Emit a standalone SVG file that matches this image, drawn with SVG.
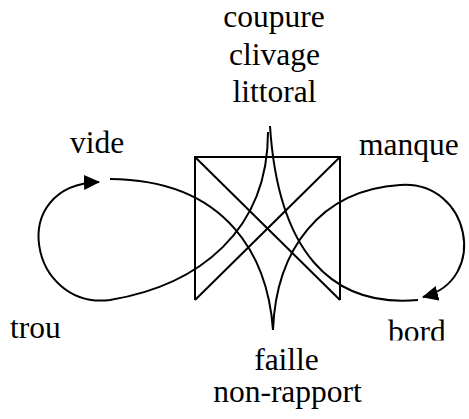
<svg xmlns="http://www.w3.org/2000/svg" width="469" height="419" viewBox="0 0 469 419">
  <style>
    .t { font-family: "Liberation Serif", "Times New Roman", serif; font-size: 31.5px; fill: #000; }
    .m { text-anchor: middle; }
    .ln { fill: none; stroke: #000; stroke-width: 2; stroke-linejoin: miter; }
  </style>
  <defs>
    <marker id="arr" markerUnits="userSpaceOnUse" markerWidth="17" markerHeight="16" refX="15" refY="7.5" orient="auto">
      <path d="M0,0 L16,7.5 L0,15 z" fill="#000"/>
    </marker>
    <clipPath id="clipBord">
      <rect x="370" y="300" width="99" height="40.5"/>
    </clipPath>
  </defs>
  <rect width="469" height="419" fill="#fff"/>

  <g id="square">
    <path class="ln" d="M195,300 L195,157 L340,157 L340,300"/>
    <path class="ln" d="M195,157 L340,300"/>
    <path class="ln" d="M340,157 L195,300"/>
  </g>

  <g id="connectors">
    <path class="ln" d="M268,132 C268,230 200,285 110,300 C30,310 5,185 99,182" marker-end="url(#arr)"/>
    <path class="ln" d="M110,179 C230,180 268,260 273,330 C276,250 320,190 400,185 C470,180 490,280 423,297" marker-end="url(#arr)"/>
    <path class="ln" d="M418,300 C330,308 278,250 270,126"/>
  </g>

  <g id="top-labels">
    <text class="t m" x="274" y="27">coupure</text>
    <text class="t m" x="274.5" y="64.5">clivage</text>
    <text class="t m" x="274.5" y="102">littoral</text>
  </g>
  <g id="label-vide"><text class="t" x="70" y="153">vide</text></g>
  <g id="label-manque"><text class="t" x="359" y="155">manque</text></g>
  <g id="label-trou"><text class="t" x="10" y="338">trou</text></g>
  <g id="label-bord" clip-path="url(#clipBord)"><text class="t" x="388" y="342">bord</text></g>
  <g id="bottom-labels">
    <text class="t m" x="286.5" y="370">faille</text>
    <text class="t m" x="287.5" y="402">non-rapport</text>
  </g>
</svg>
